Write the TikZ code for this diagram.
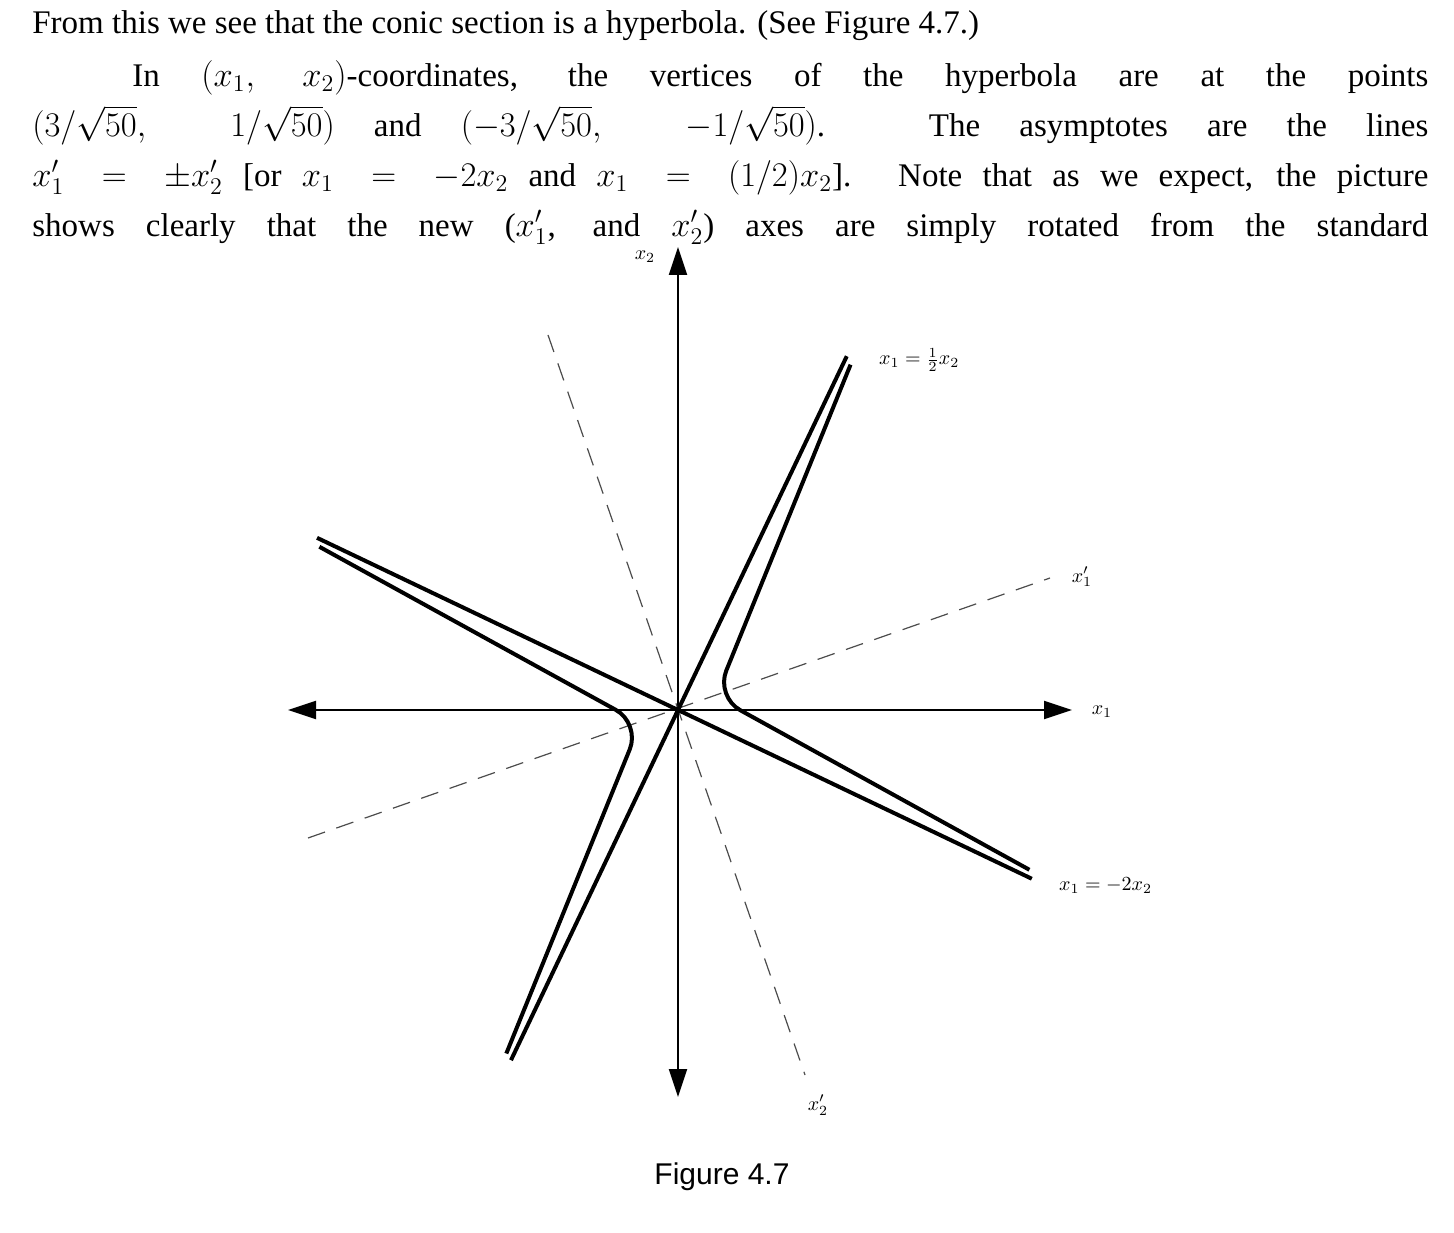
\documentclass[tikz,border=0pt]{standalone}
\usepackage{fontspec}
\setmainfont{Liberation Serif}
\setsansfont{Liberation Sans}
\usetikzlibrary{arrows.meta}
\tikzset{
  ax/.style={line width=1pt,-{Triangle[length=14pt,width=9pt]}},
  dsh/.style={line width=0.6pt,dash pattern=on 9pt off 6pt,black!70},
  hyp/.style={line width=2pt},
  lab/.style={font=\fontsize{10}{12}\selectfont}
}
\begin{document}
\begin{tikzpicture}[x=0.5pt,y=0.5pt]
\useasboundingbox (0,0) rectangle (1454,1232);
% text
\node[anchor=north west,inner sep=0pt,font=\fontsize{16.5}{25}\selectfont] (t1) at (32,1222) {From this we see that the conic section is a hyperbola. (See Figure 4.7.)};
\node[anchor=north west,inner sep=0pt,font=\fontsize{16.5}{25}\selectfont] (t2) at (32,1172) {\parbox{698pt}{\parfillskip=0pt\parindent=50pt
In $(x_1,\ x_2)$-coordinates, the vertices of the hyperbola are at the points\linebreak
$(3/\sqrt{50},\ \ 1/\sqrt{50})$ and $(-3/\sqrt{50},\ \ -1/\sqrt{50})$. The asymptotes are the lines\linebreak
$x_1' = \pm x_2'$ [or $x_1 = -2x_2$ and $x_1 = (1/2)x_2$]. Note that as we expect, the picture\linebreak
shows clearly that the new ($x_1'$, and $x_2'$) axes are simply rotated from the standard}};
% axes
\coordinate (O) at (678,522);
\coordinate (L) at (288,522); \coordinate (R) at (1072,522);
\coordinate (T) at (678,985); \coordinate (B) at (678,135);
\draw[ax] (O) -- (R); \draw[ax] (O) -- (L);
\draw[ax] (O) -- (T); \draw[ax] (O) -- (B);
% rotated axes
\coordinate (p1) at (308,394); \coordinate (p2) at (1050,654);
\coordinate (q1) at (548,897); \coordinate (q2) at (805,157);
\draw[dsh] (p1) -- (p2);
\draw[dsh] (q1) -- (q2);
% asymptotes and hyperbola
\begin{scope}[shift={(O)},rotate=19.5]
\coordinate (a1) at ({392*cos(45)},{392*sin(45)});
\coordinate (a2) at ({-388*cos(45)},{-388*sin(45)});
\coordinate (b1) at ({392*cos(45)},{-392*sin(45)});
\coordinate (b2) at ({-400*cos(45)},{400*sin(45)});
\coordinate (h1) at ({386*cos(45)+5},{386*sin(45)-5});
\coordinate (hv) at (40,0);
\coordinate (h2) at ({386*cos(45)+5},{-386*sin(45)+5});
\coordinate (k1) at ({-384*cos(45)-5},{-384*sin(45)+5});
\coordinate (kv) at (-40,0);
\coordinate (k2) at ({-394*cos(45)-5},{394*sin(45)-5});
\draw[hyp] (a1) -- (a2);
\draw[hyp] (b1) -- (b2);
\draw[hyp,rounded corners=14pt] (h1) -- (hv) -- (h2);
\draw[hyp,rounded corners=14pt] (k1) -- (kv) -- (k2);
\end{scope}
% labels
\node[lab] (lx2) at (645,975) {$x_2$};
\node[lab,anchor=west] (la1) at (872,872) {$x_1 = \frac12 x_2$};
\node[lab] (lx1p) at (1082,655) {$x_1'$};
\node[lab] (lx1) at (1102,520) {$x_1$};
\node[lab,anchor=west] (la2) at (1052,346) {$x_1 = -2x_2$};
\node[lab] (lx2p) at (818,127) {$x_2'$};
\node[font=\sffamily\fontsize{15}{18}\selectfont] (cap) at (722,55) {Figure 4.7};
\end{tikzpicture}
\end{document}
